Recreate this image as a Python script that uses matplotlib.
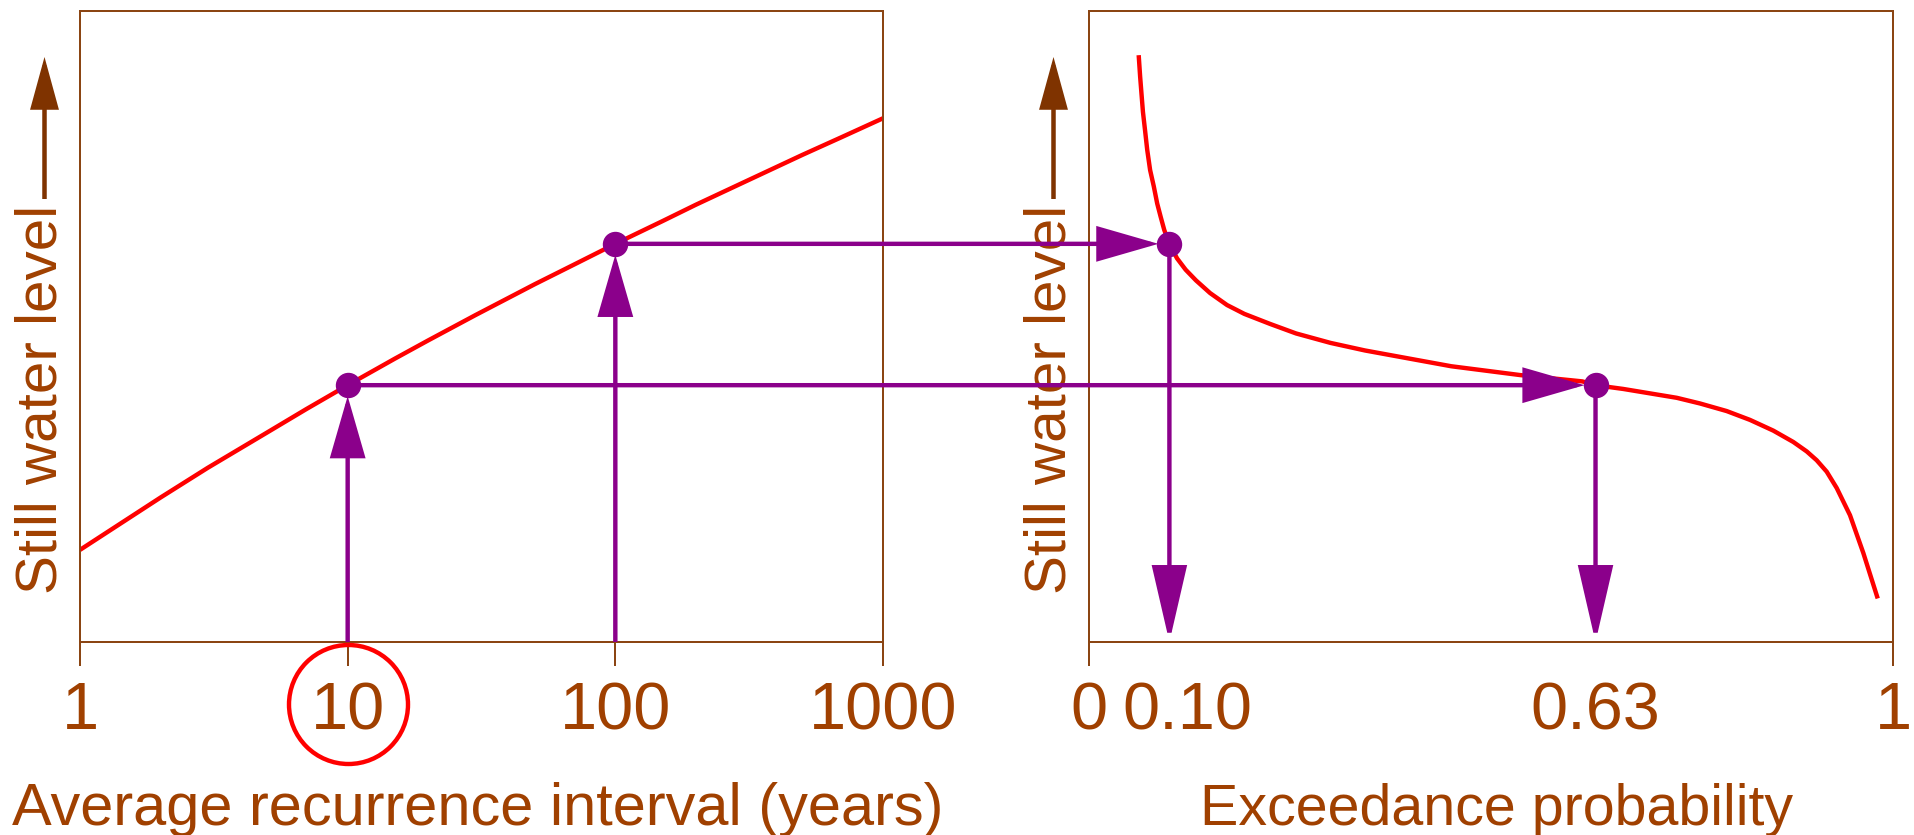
import matplotlib
matplotlib.use("Agg")
import matplotlib.pyplot as plt
from matplotlib.patches import ConnectionPatch, FancyArrowPatch, ArrowStyle
from matplotlib.ticker import NullLocator
from matplotlib.transforms import blended_transform_factory, ScaledTranslation

plt.rcParams['font.family'] = ['Liberation Sans', 'DejaVu Sans']

# Still water level against average recurrence interval (years)
ari_years = [1, 2, 3, 5, 7, 10, 15, 20, 30, 50, 70, 100, 150, 200, 300, 500, 700, 1000]
level_ari = [1.46, 2.29, 2.76, 3.32, 3.69, 4.07, 4.49, 4.78, 5.18, 5.67, 5.98,
             6.31, 6.67, 6.93, 7.28, 7.72, 8.00, 8.30]

# The same levels against probability of exceedance within 10 years
exc_prob = [0.0618, 0.0636, 0.0654, 0.0671, 0.0697, 0.0724, 0.0760, 0.0806,
            0.0848, 0.0891, 0.0936, 0.10, 0.1095, 0.1202, 0.1331, 0.1506,
            0.1717, 0.1932, 0.2254, 0.2575, 0.3004, 0.3433, 0.4076, 0.4506,
            0.5364, 0.6136, 0.63, 0.6646, 0.6978, 0.7310, 0.760, 0.7931,
            0.8221, 0.8511, 0.876, 0.8927, 0.9051, 0.9175, 0.930, 0.9465,
            0.9631, 0.981]
level_prob = [9.30, 8.96, 8.67, 8.40, 8.11, 7.80, 7.48, 7.22,
              6.95, 6.74, 6.53, 6.31, 6.08, 5.90, 5.73, 5.53,
              5.34, 5.20, 5.04, 4.89, 4.74, 4.62, 4.47, 4.37,
              4.23, 4.13, 4.07, 4.01, 3.94, 3.87, 3.78, 3.66,
              3.52, 3.35, 3.17, 3.02, 2.88, 2.70, 2.44, 2.01,
              1.41, 0.69]

# Worked examples: recurrence interval -> level -> exceedance probability
example_ari = [10, 100]
example_level = [4.07, 6.31]
example_prob = [0.63, 0.10]

ari_ticks = [1, 10, 100, 1000]
ari_ticklabels = ['1', '10', '100', '1000']
prob_ticks = [0, 0.10, 0.63, 1]
prob_ticklabels = ['0', '0.10', '0.63', '1']
highlight_ari = 10

TEXT = '#A04000'
SPINE = '#8B4513'
AXIS_ARROW = '#7F3300'
PURPLE = '#8B008B'
RED = '#FF0000'

W, H, DPI = 1915, 835, 100
px = 72 / DPI  # points per pixel

fig = plt.figure(figsize=(W / DPI, H / DPI), dpi=DPI)
ax1 = fig.add_axes([80 / W, 1 - 642 / H, 803 / W, 631 / H])
ax2 = fig.add_axes([1089 / W, 1 - 642 / H, 804 / W, 631 / H])

for ax in (ax1, ax2):
    ax.set_ylim(0, 10)
    ax.set_yticks([])
    for s in ax.spines.values():
        s.set_color(SPINE)
        s.set_linewidth(2 * px)
    ax.tick_params(axis='x', direction='out', length=24 * px, width=2 * px,
                   color=SPINE, labelsize=48, labelcolor=TEXT, pad=15 * px)

ax1.set_xscale('log')
ax1.set_xlim(1, 1000)
ax1.set_xticks(ari_ticks, ari_ticklabels)
ax1.xaxis.set_minor_locator(NullLocator())

ax2.set_xlim(0, 1)
ax2.set_xticks(prob_ticks, prob_ticklabels)
ax2.xaxis.set_minor_locator(NullLocator())
ticks2 = ax2.xaxis.get_major_ticks()
for t in ticks2[1:3]:
    t.tick1line.set_visible(False)
# nudge the crowded "0.10" label away from "0"
lbl = ticks2[1].label1
lbl.set_transform(lbl.get_transform() + ScaledTranslation(18 / DPI, 0, fig.dpi_scale_trans))

# curves
ax1.plot(ari_years, level_ari, color=RED, lw=4.4 * px, solid_capstyle='butt',
         solid_joinstyle='round', zorder=2)
ax2.plot(exc_prob, level_prob, color=RED, lw=4.4 * px, solid_capstyle='butt',
         solid_joinstyle='round', zorder=2)

# example points
ax1.plot(example_ari, example_level, 'o', ms=24 * px, color=PURPLE, zorder=5, clip_on=False)
ax2.plot(example_prob, example_level, 'o', ms=24 * px, color=PURPLE, zorder=5, clip_on=False)

# circle around the 10-year tick label
ax1.plot([highlight_ari], [-0.0983], transform=blended_transform_factory(ax1.transData, ax1.transAxes),
         marker='o', ms=119 * px, mfc='none', mec=RED, mew=4.4 * px, clip_on=False, zorder=6)


def link(xyA, axA, xyB, axB, head_len, shrink):
    con = ConnectionPatch(xyA=xyA, coordsA=axA.transData, xyB=xyB, coordsB=axB.transData,
                          arrowstyle=ArrowStyle('-|>', head_length=head_len * px, head_width=15 * px),
                          mutation_scale=1, color=PURPLE, lw=4.4 * px,
                          joinstyle='miter', capstyle='butt',
                          shrinkA=0, shrinkB=shrink * px, zorder=4, clip_on=False)
    fig.add_artist(con)


for a, lev, p in zip(example_ari, example_level, example_prob):
    link((a, 0), ax1, (a, lev), ax1, 52, 11)      # up from the recurrence axis
    link((a, lev), ax1, (p, lev), ax2, 52, 11)    # across to the probability curve
    link((p, lev), ax2, (p, 0), ax2, 65, 0)       # down to the probability axis

# y-axis labels with an upward arrow
for ax in (ax1, ax2):
    x0 = ax.get_position().x0 * W
    fig.text((x0 - 23) / W, 1 - 399 / H, 'Still water level', rotation=90,
             rotation_mode='anchor', ha='center', va='baseline',
             fontsize=42, color=TEXT, zorder=3)
    fig.add_artist(FancyArrowPatch(((x0 - 35.5) / W, 1 - 199 / H), ((x0 - 35.5) / W, 1 - 57 / H),
                                   transform=fig.transFigure,
                                   arrowstyle=ArrowStyle('-|>', head_length=42 * px, head_width=11.5 * px),
                                   mutation_scale=1, color=AXIS_ARROW, lw=4.5 * px,
                                   joinstyle='miter', capstyle='butt',
                                   shrinkA=0, shrinkB=0, zorder=3))

# x-axis titles
fig.text(478 / W, 10 / H, 'Average recurrence interval (years)', ha='center', va='baseline',
         fontsize=42.8, color=TEXT)
fig.text(1497 / W, 10 / H, 'Exceedance probability', ha='center', va='baseline',
         fontsize=41.3, color=TEXT)

fig.savefig('out.png', dpi=DPI, facecolor='white')
